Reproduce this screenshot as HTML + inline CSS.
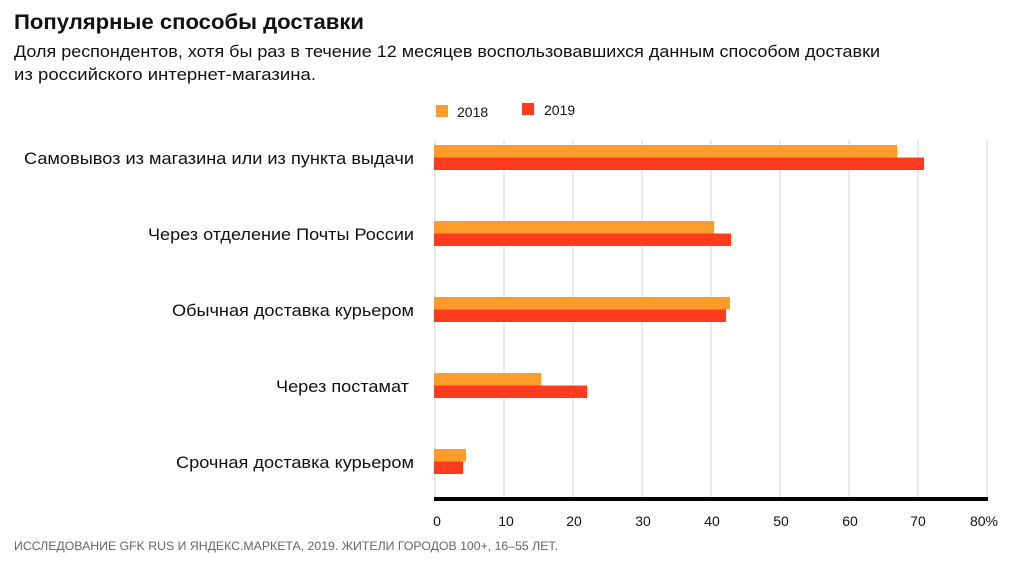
<!DOCTYPE html>
<html><head><meta charset="utf-8"><style>
body{margin:0;background:#fff;width:1024px;height:566px;overflow:hidden;font-family:"Liberation Sans",sans-serif;}
</style></head><body>
<svg width="1024" height="566" xmlns="http://www.w3.org/2000/svg" font-family="Liberation Sans, sans-serif">
<text x="14" y="29" font-size="21" font-weight="bold" fill="#111" textLength="350" lengthAdjust="spacingAndGlyphs">Популярные способы доставки</text>
<text x="14" y="57" font-size="17" fill="#111" textLength="866" lengthAdjust="spacingAndGlyphs">Доля респондентов, хотя бы раз в течение 12 месяцев воспользовавшихся данным способом доставки</text>
<text x="14" y="80" font-size="17" fill="#111" textLength="302" lengthAdjust="spacingAndGlyphs">из российского интернет-магазина.</text>
<rect x="436" y="105" width="12" height="12" fill="#fd9c2b"/>
<text x="457" y="117" font-size="14" fill="#111">2018</text>
<rect x="522" y="103" width="12" height="12" fill="#fc3b1f"/>
<text x="544" y="115" font-size="14" fill="#111">2019</text>
<g stroke="#e2e4e4" stroke-width="1.5">
<line x1="435" y1="140" x2="435" y2="498"/><line x1="504" y1="140" x2="504" y2="498"/><line x1="573" y1="140" x2="573" y2="498"/><line x1="642" y1="140" x2="642" y2="498"/><line x1="711" y1="140" x2="711" y2="498"/><line x1="780" y1="140" x2="780" y2="498"/><line x1="849" y1="140" x2="849" y2="498"/><line x1="918" y1="140" x2="918" y2="498"/><line x1="987" y1="140" x2="987" y2="498"/>
</g>
<g fill="#fd9c2b">
<rect x="434" y="145" width="463" height="12.5"/>
<rect x="434" y="221" width="280" height="12.5"/>
<rect x="434" y="297" width="296" height="12.5"/>
<rect x="434" y="373" width="107" height="12.5"/>
<rect x="434" y="449" width="32" height="12.5"/>
</g>
<g fill="#fc3b1f">
<rect x="434" y="157.5" width="490" height="12.5"/>
<rect x="434" y="233.5" width="297" height="12.5"/>
<rect x="434" y="309.5" width="292" height="12.5"/>
<rect x="434" y="385.5" width="153" height="12.5"/>
<rect x="434" y="461.5" width="29" height="12.5"/>
</g>
<rect x="434" y="497" width="554" height="4" fill="#000"/>
<g font-size="17" fill="#111" lengthAdjust="spacingAndGlyphs">
<text x="24" y="164" textLength="390" lengthAdjust="spacingAndGlyphs">Самовывоз из магазина или из пункта выдачи</text>
<text x="148" y="240" textLength="266" lengthAdjust="spacingAndGlyphs">Через отделение Почты России</text>
<text x="172" y="316" textLength="242" lengthAdjust="spacingAndGlyphs">Обычная доставка курьером</text>
<text x="276" y="392" textLength="133" lengthAdjust="spacingAndGlyphs">Через постамат</text>
<text x="176" y="468" textLength="238" lengthAdjust="spacingAndGlyphs">Срочная доставка курьером</text>
</g>
<g font-size="14" fill="#111" text-anchor="middle">
<text x="437" y="526">0</text><text x="506" y="526">10</text><text x="574" y="526">20</text><text x="643" y="526">30</text><text x="712" y="526">40</text><text x="781" y="526">50</text><text x="850" y="526">60</text><text x="918" y="526">70</text><text x="984" y="526">80%</text>
</g>
<text x="14" y="550" font-size="12" fill="#666" textLength="544" lengthAdjust="spacingAndGlyphs">ИССЛЕДОВАНИЕ GFK RUS И ЯНДЕКС.МАРКЕТА, 2019. ЖИТЕЛИ ГОРОДОВ 100+, 16–55 ЛЕТ.</text>
</svg>
</body></html>
